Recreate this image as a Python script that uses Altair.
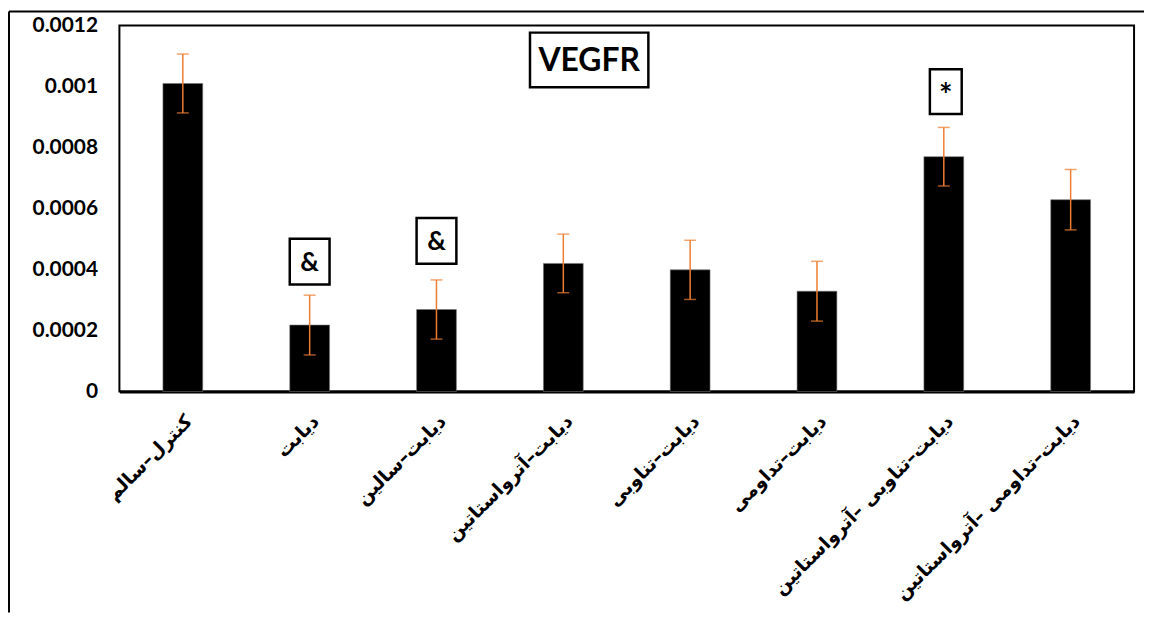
import altair as alt
import pandas as pd

# ---- data ----
categories = [
    "کنترل–سالم",
    "دیابت",
    "دیابت–سالین",
    "دیابت–آترواستاتین",
    "دیابت–تناوبی",
    "دیابت–تداومی",
    "دیابت–تناوبی –آترواستاتین",
    "دیابت–تداومی –آترواستاتین",
]
means = [0.00101, 0.000218, 0.000269, 0.00042, 0.000399, 0.000329, 0.00077, 0.000629]
errors = [0.0000965, 0.000098, 0.000097, 0.000096, 0.000097, 0.000098, 0.000096, 0.000099]
y_ticks = [0, 0.0002, 0.0004, 0.0006, 0.0008, 0.001, 0.0012]

sig_labels = ["&", "&", "*"]
sig_groups = ["دیابت", "دیابت–سالین", "دیابت–تناوبی –آترواستاتین"]
sig_values = [0.000426, 0.000494, 0.000983]

title_text = "VEGFR"
title_group = "دیابت–آترواستاتین"
title_value = 0.001087

W, H = 1020, 368
ORANGE = "#ED7D31"

df = pd.DataFrame({"group": categories, "mean": means, "err": errors})
df["lo"] = df["mean"] - df["err"]
df["hi"] = df["mean"] + df["err"]

sig_df = pd.DataFrame({"group": sig_groups, "label": sig_labels, "value": sig_values})
title_df = pd.DataFrame({"group": [title_group], "label": [title_text], "value": [title_value]})

x_enc = alt.X(
    "group:N",
    sort=categories,
    title=None,
    axis=alt.Axis(
        labelAngle=-45,
        labelAlign="right",
        labelBaseline="top",
        labelFont="DejaVu Sans",
        labelFontWeight="bold",
        labelFontSize=19,
        labelColor="black",
        labelPadding=20,
        ticks=False,
        domainColor="black",
        domainWidth=3,
        labelLimit=400,
    ),
)
y_scale = alt.Scale(domain=[0, 0.0012], nice=False)
y_axis = alt.Axis(
    values=y_ticks,
    format="~g",
    labelFont="Lato",
    labelFontWeight="bold",
    labelFontSize=21,
    labelColor="black",
    labelPadding=22,
    ticks=False,
    domain=False,
    grid=False,
    title=None,
)

base = alt.Chart(df)

bars = base.mark_bar(width=40, color="black", stroke="#777", strokeWidth=0.6).encode(
    x=x_enc,
    y=alt.Y("mean:Q", scale=y_scale, axis=y_axis),
)
err_rule = base.mark_rule(color=ORANGE, strokeWidth=1.5).encode(
    x=alt.X("group:N", sort=categories), y="lo:Q", y2="hi:Q"
)
cap_hi = base.mark_tick(color=ORANGE, size=12, thickness=1.5).encode(
    x=alt.X("group:N", sort=categories), y="hi:Q"
)
cap_lo = base.mark_tick(color=ORANGE, size=12, thickness=1.5).encode(
    x=alt.X("group:N", sort=categories), y="lo:Q"
)

amp_df = sig_df[sig_df["label"] == "&"]
star_df = sig_df[sig_df["label"] == "*"]

amp_box = alt.Chart(amp_df).mark_point(
    shape="M-2,-2.3L2,-2.3L2,2.3L-2,2.3Z", size=400, filled=False,
    stroke="black", strokeWidth=2.5, opacity=1,
).encode(x=alt.X("group:N", sort=categories), y="value:Q")
amp_text = alt.Chart(amp_df).mark_text(
    font="Lato", fontWeight="bold", fontSize=26, color="black", baseline="middle", dy=1,
).encode(x=alt.X("group:N", sort=categories), y="value:Q", text="label:N")

star_box = alt.Chart(star_df).mark_point(
    shape="M-1.6,-2.25L1.6,-2.25L1.6,2.25L-1.6,2.25Z", size=400, filled=False,
    stroke="black", strokeWidth=2.5, opacity=1, xOffset=2,
).encode(x=alt.X("group:N", sort=categories), y="value:Q")
star_text = alt.Chart(star_df).mark_text(
    font="Lato", fontWeight="bold", fontSize=32, color="black", baseline="middle",
    xOffset=2, dy=5,
).encode(x=alt.X("group:N", sort=categories), y="value:Q", text="label:N")

title_box = alt.Chart(title_df).mark_point(
    shape="M-5.95,-2.75L5.95,-2.75L5.95,2.75L-5.95,2.75Z", size=400, filled=False,
    stroke="black", strokeWidth=2.5, opacity=1, xOffset=26,
).encode(x=alt.X("group:N", sort=categories), y="value:Q")
title_mark = alt.Chart(title_df).mark_text(
    font="Lato", fontWeight="bold", fontSize=32, color="black", baseline="middle", xOffset=26, dy=1,
).encode(x=alt.X("group:N", sort=categories), y="value:Q", text="label:N")

frame_data = alt.Data(values=[{"k": 0}])
outer_top = alt.Chart(frame_data).mark_rule(color="black", strokeWidth=2).encode(
    x=alt.value(-111), x2=alt.value(W + 10), y=alt.value(-14)
)
outer_left = alt.Chart(frame_data).mark_rule(color="black", strokeWidth=2).encode(
    x=alt.value(-111), y=alt.value(-14), y2=alt.value(H + 222)
)

chart = (
    alt.layer(bars, err_rule, cap_hi, cap_lo, amp_box, amp_text, star_box, star_text,
              title_box, title_mark, outer_top, outer_left)
    .properties(
        width=W,
        height=H,
        autosize=alt.AutoSizeParams(type="none"),
        padding={"left": 112, "top": 16, "right": 10, "bottom": 222},
        background="white",
    )
    .configure_view(stroke="black", strokeWidth=2)
)

chart.save("out.html", embed_options={"renderer": "svg", "actions": False})
